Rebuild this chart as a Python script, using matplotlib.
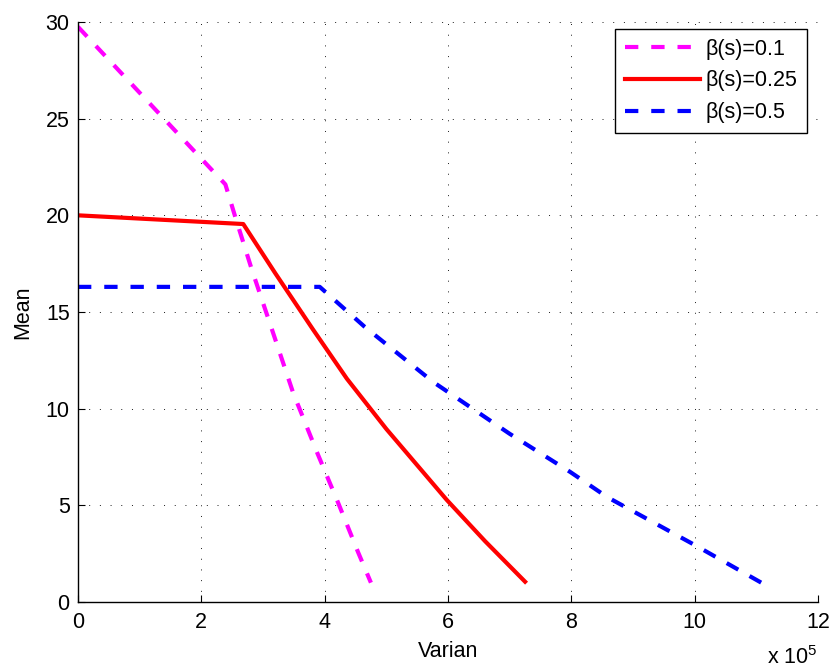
import matplotlib
matplotlib.use("Agg")
import matplotlib.pyplot as plt

plt.rcParams["font.family"] = ["Liberation Sans", "DejaVu Sans"]
plt.rcParams["mathtext.fontset"] = "custom"
plt.rcParams["mathtext.rm"] = "Liberation Sans"

# variance in units of 1e5, mean
x_b01 = [0.0, 2.39, 2.55, 2.82, 3.11, 3.49, 3.88, 4.22, 4.54, 4.75]
y_b01 = [29.75, 21.6, 19.92, 17.18, 14.43, 10.81, 7.71, 5.12, 2.59, 1.0]

x_b025 = [0.0, 2.68, 3.2, 3.81, 4.36, 5.0, 5.98, 6.6, 7.25]
y_b025 = [20.0, 19.55, 17.0, 14.1, 11.55, 8.95, 5.28, 3.15, 1.05]

x_b05 = [0.0, 3.92, 4.65, 5.76, 7.0, 7.98, 8.58, 10.0, 11.08]
y_b05 = [16.3, 16.3, 14.23, 11.38, 8.7, 6.73, 5.43, 2.95, 1.0]

labels = ["β(s)=0.1", "β(s)=0.25", "β(s)=0.5"]
xticks = [0, 2, 4, 6, 8, 10, 12]
yticks = [0, 5, 10, 15, 20, 25, 30]

fs = 15.5
fig = plt.figure(figsize=(8.32, 6.70), dpi=100)
ax = fig.add_axes([78 / 832, 1 - 602 / 670, 740 / 832, 580 / 670])

dash = (0, (3.2, 3.1))
ax.plot(x_b01, y_b01, color="#ff00ff", lw=3, ls=dash, label=labels[0])
ax.plot(x_b025, y_b025, color="#ff0000", lw=3, ls="-", label=labels[1])
ax.plot(x_b05, y_b05, color="#0000ff", lw=3, ls=dash, label=labels[2])

ax.set_xlim(0, 12)
ax.set_ylim(0, 30)
ax.set_xticks(xticks)
ax.set_yticks(yticks)
ax.tick_params(direction="in", length=5, width=0.8, labelsize=fs)
ax.tick_params(axis="x", pad=7)
ax.tick_params(axis="y", pad=6)
ax.grid(True, color="0.1", lw=0.7, ls=(0, (1, 10)))
ax.spines["top"].set_visible(False)
ax.spines["right"].set_visible(False)
for s in ("left", "bottom"):
    ax.spines[s].set_linewidth(1.0)

ax.set_xlabel("Varian", fontsize=fs, labelpad=6)
ax.set_ylabel("Mean", fontsize=fs, labelpad=9)
fig.text(818 / 832, 0.002, r"x 10$^{5}$", fontsize=fs,
         ha="right", va="bottom")

leg = ax.legend(loc="upper right", bbox_to_anchor=(807 / 832, 1 - 29 / 670),
                bbox_transform=fig.transFigure, borderaxespad=0,
                fontsize=fs, handlelength=3.5, handletextpad=0.25,
                labelspacing=0.5, borderpad=0.45, fancybox=False,
                framealpha=1, edgecolor="black")
leg.get_frame().set_linewidth(1.0)

fig.savefig("out.png", dpi=100)
